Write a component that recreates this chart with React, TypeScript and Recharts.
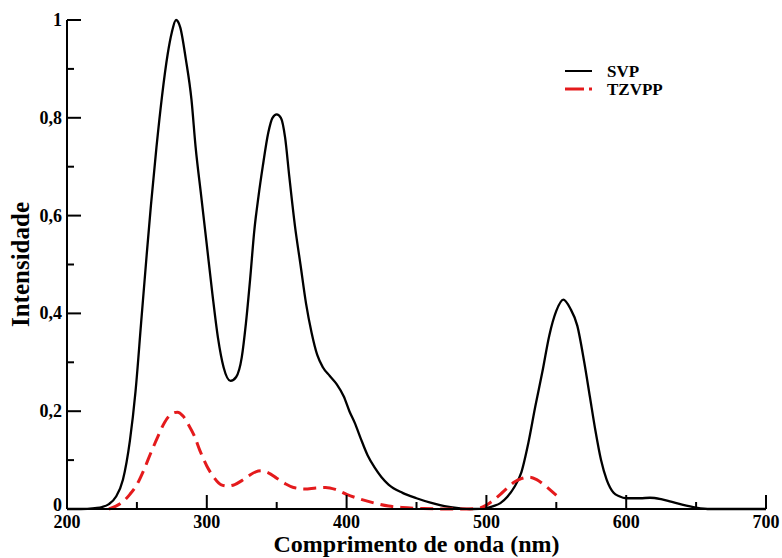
import { LineChart, Line, XAxis, YAxis, Legend } from "recharts";

const svpWavelength = [
  200, 210, 220, 225, 230, 235, 240, 245, 249, 253, 257, 260, 264, 268, 272, 275, 278, 281, 285, 289,
  292, 296, 300, 304, 308, 312, 317, 321, 325, 328, 331, 334, 337, 340, 344, 347, 350, 353, 356, 359,
  363, 367, 371, 375, 379, 383, 388, 393, 398, 402, 406, 410, 415, 420, 425, 430, 440, 450, 460, 470,
  480, 490, 500, 505, 510, 515, 520, 525, 530, 535, 540, 545, 550, 555, 560, 565, 570, 574, 578, 582,
  586, 591, 595, 600, 610, 617, 625, 632, 640, 650, 660, 700,
];
const svpIntensity = [
  0, 0, 0.002, 0.004, 0.01, 0.025, 0.06, 0.14, 0.24, 0.38, 0.52, 0.62, 0.74, 0.845, 0.93, 0.975, 1.0, 0.985, 0.92, 0.838,
  0.74, 0.64, 0.54, 0.44, 0.35, 0.29, 0.262, 0.27, 0.31, 0.38, 0.47, 0.57, 0.64, 0.7, 0.77, 0.8, 0.807, 0.8, 0.76, 0.68,
  0.58, 0.5, 0.42, 0.36, 0.315, 0.29, 0.272, 0.255, 0.23, 0.2, 0.175, 0.145, 0.11, 0.085, 0.065, 0.05, 0.033, 0.022, 0.013, 0.006,
  0.002, 0, 0.002, 0.006, 0.012, 0.025, 0.045, 0.075, 0.135, 0.21, 0.28, 0.355, 0.405, 0.428, 0.41, 0.375, 0.3, 0.23, 0.16, 0.1,
  0.06, 0.033, 0.026, 0.022, 0.022, 0.023, 0.02, 0.015, 0.009, 0.003, 0, 0,
];

const tzvppWavelength = [
  230, 235, 240, 245, 250, 255, 260, 265, 270, 275, 279, 283, 287, 291, 295, 300, 305, 310, 315, 320,
  325, 330, 335, 339, 344, 350, 356, 362, 370, 378, 385, 392, 400, 410, 420, 430, 440, 455, 470, 485,
  495, 500, 505, 510, 515, 520, 525, 531, 536, 541, 546, 550,
];
const tzvppIntensity = [
  0, 0.006, 0.015, 0.03, 0.05, 0.08, 0.115, 0.148, 0.178, 0.195, 0.198, 0.19, 0.172, 0.15, 0.12, 0.088, 0.065, 0.05, 0.047, 0.05,
  0.058, 0.068, 0.076, 0.078, 0.074, 0.063, 0.052, 0.044, 0.041, 0.043, 0.044, 0.04, 0.03, 0.02, 0.012, 0.006, 0.003, 0.001, 0, 0,
  0.002, 0.008, 0.018, 0.03, 0.043, 0.055, 0.062, 0.065, 0.06, 0.05, 0.038, 0.028,
];

const xTicks = [200, 250, 300, 350, 400, 450, 500, 550, 600, 650, 700];
const yTicks = [0, 0.1, 0.2, 0.3, 0.4, 0.5, 0.6, 0.7, 0.8, 0.9, 1];

const svpData = svpWavelength.map((w, i) => ({ w, v: svpIntensity[i] }));
const tzvppData = tzvppWavelength.map((w, i) => ({ w, v: tzvppIntensity[i] }));

const FONT = "'Liberation Serif', 'Times New Roman', serif";

const XTick = (props: any) => {
  const { x, y, payload } = props;
  const major = payload.value % 100 === 0;
  return (
    <g>
      <line x1={x} x2={x} y1={y} y2={y - (major ? 14 : 7)} stroke="#000" strokeWidth={2} />
      {major && (
        <text x={x} y={y + 19} textAnchor="middle" fontFamily={FONT} fontWeight="bold" fontSize={18} fill="#000">
          {payload.value}
        </text>
      )}
    </g>
  );
};

const YTick = (props: any) => {
  const { x, y, payload } = props;
  const tenth = Math.round(payload.value * 10);
  const major = tenth % 2 === 0;
  const label = tenth === 0 ? "0" : tenth === 10 ? "1" : (tenth / 10).toFixed(1).replace(".", ",");
  return (
    <g>
      <line x1={x} x2={x + (major ? 14 : 7)} y1={y} y2={y} stroke="#000" strokeWidth={2} />
      {major && (
        <text x={x - 5} y={tenth === 0 ? y + 2 : y + 6} textAnchor="end" fontFamily={FONT} fontWeight="bold" fontSize={18} fill="#000">
          {label}
        </text>
      )}
    </g>
  );
};

const YTitle = (props: any) => {
  const { viewBox } = props;
  const cx = viewBox.x + 20;
  const cy = viewBox.y + viewBox.height / 2;
  return (
    <text
      x={cx}
      y={cy}
      transform={`rotate(-90 ${cx} ${cy})`}
      textAnchor="middle"
      dominantBaseline="central"
      fontFamily={FONT}
      fontWeight="bold"
      fontSize={25}
      fill="#000"
    >
      Intensidade
    </text>
  );
};

const renderLegend = () => (
  <svg width={140} height={48}>
    <line x1={5} x2={32} y1={13} y2={13} stroke="#000" strokeWidth={2} />
    <text x={47} y={19} fontFamily={FONT} fontWeight="bold" fontSize={17} fill="#000">SVP</text>
    <line x1={5} x2={24} y1={31} y2={31} stroke="#e41a1c" strokeWidth={3} />
    <line x1={29} x2={32} y1={31} y2={31} stroke="#e41a1c" strokeWidth={3} />
    <text x={47} y={37} fontFamily={FONT} fontWeight="bold" fontSize={17} fill="#000">TZVPP</text>
  </svg>
);

export default function App() {
  return (
    <div style={{ width: 782, height: 558 }}>
      <style>{`body{margin:0;}`}</style>
      <LineChart width={782} height={558} margin={{ top: 20, right: 16, left: 0, bottom: 0 }}>
        <XAxis
          dataKey="w"
          type="number"
          domain={[200, 700]}
          ticks={xTicks}
          interval={0}
          height={49}
          tickSize={0}
          tickMargin={0}
          tickLine={false}
          tick={<XTick />}
          axisLine={{ stroke: "#000", strokeWidth: 2 }}
          allowDuplicatedCategory={false}
          label={{
            value: "Comprimento de onda (nm)",
            position: "insideBottom",
            offset: 6,
            fill: "#000",
            fontSize: 24,
            fontWeight: "bold",
            fontFamily: FONT,
          }}
        />
        <YAxis
          type="number"
          domain={[0, 1]}
          ticks={yTicks}
          interval={0}
          width={67}
          tickSize={0}
          tickMargin={0}
          tickLine={false}
          tick={<YTick />}
          axisLine={{ stroke: "#000", strokeWidth: 2 }}
          label={<YTitle />}
        />
        <Legend
          layout="vertical"
          align="center"
          verticalAlign="middle"
          content={renderLegend}
          wrapperStyle={{ position: "absolute", left: 560, top: 58, width: 140, height: 48 }}
        />
        <Line
          data={svpData}
          dataKey="v"
          type="monotone"
          stroke="#000"
          strokeWidth={2.3}
          dot={false}
          isAnimationActive={false}
        />
        <Line
          data={tzvppData}
          dataKey="v"
          type="monotone"
          stroke="#e41a1c"
          strokeWidth={3}
          strokeDasharray="13 7"
          dot={false}
          isAnimationActive={false}
        />
      </LineChart>
    </div>
  );
}
